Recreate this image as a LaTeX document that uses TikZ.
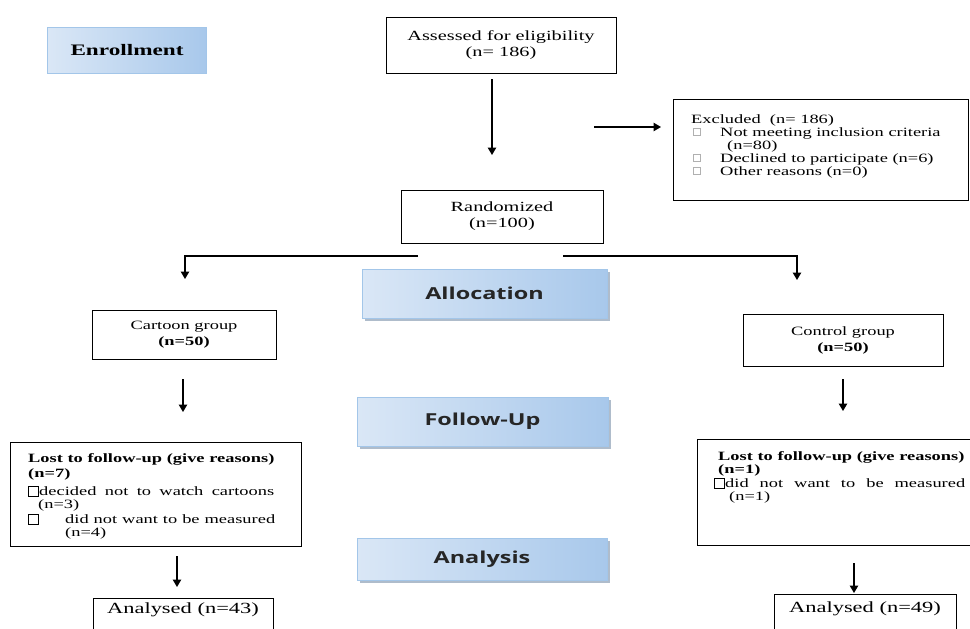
\documentclass[tikz,border=0pt]{standalone}
\usepackage{fontspec}
\setmainfont{Liberation Serif}[FakeStretch=1.45]
\newfontfamily\headsans{Open Sans}[FakeStretch=1.42]
\usetikzlibrary{arrows.meta,shadows}
\definecolor{bluelight}{HTML}{DAE7F6}
\definecolor{bluemid}{HTML}{C7DBF1}
\definecolor{bluedark}{HTML}{A8C8EB}
\definecolor{blueedge}{HTML}{A3C6E9}
\definecolor{shadowc}{HTML}{8D9FB5}
\definecolor{cbgrey}{HTML}{B0B0B0}
\tikzset{
  box/.style={draw, line width=0.8pt, inner sep=0pt},
  bluebox/.style={draw=blueedge, line width=0.8pt, left color=bluelight, middle color=bluemid, right color=bluedark, inner sep=0pt},
  shadowed/.style={drop shadow={shadow xshift=3pt, shadow yshift=-3pt, fill=shadowc, opacity=0.7}},
  headfont/.style={font=\headsans\bfseries\fontsize{16.5}{18}\selectfont, text=black!85},
  bodyfont/.style={font=\fontsize{12.7}{15}\selectfont},
  bigfont/.style={font=\fontsize{14}{16}\selectfont},
  txt/.style={anchor=base west, inner sep=0pt, bodyfont},
  arr/.style={line width=1.2pt, -{Triangle[width=8.5pt,length=7.5pt]}},
  cbblack/.style={draw, line width=0.6pt},
  cbg/.style={draw=cbgrey, line width=0.5pt}
}
\begin{document}
\begin{tikzpicture}[x=1pt,y=-1pt]
\useasboundingbox (0,0) rectangle (970,629);

% Enrollment
\node[bluebox, minimum width=159, minimum height=46, font=\fontsize{16}{18}\selectfont\bfseries] (enroll) at (127,50) {Enrollment};

% Assessed
\node[box, minimum width=230, minimum height=56, align=center, bigfont] (assessed) at (501,45) {Assessed for eligibility\\(n= 186)};
\coordinate (a1s) at (492,79);
\coordinate (a1e) at (492,155);
\draw[arr] (a1s) -- (a1e);

% Excluded
\node[box, minimum width=295, minimum height=101] (excl) at (820.5,149.5) {};
\coordinate (a2s) at (594,127);
\coordinate (a2e) at (661,127);
\draw[arr] (a2s) -- (a2e);
\node[txt] (ex0) at (691,123) {Excluded\ \ (n= 186)};
\draw[cbg] (693,128.5) rectangle (700,135.5);
\node[txt] (ex1) at (720,136) {Not meeting inclusion criteria};
\node[txt] (ex2) at (727,149) {(n=80)};
\draw[cbg] (693,154.5) rectangle (700,161.5);
\node[txt] (ex3) at (720,162) {Declined to participate (n=6)};
\draw[cbg] (693,167.5) rectangle (700,174.5);
\node[txt] (ex4) at (720,175) {Other reasons (n=0)};

% Randomized
\node[box, minimum width=202, minimum height=53, align=center, bigfont] (rand) at (502,216.5) {Randomized\\(n=100)};
\coordinate (sl) at (418,256);
\coordinate (sr) at (563,256);
\coordinate (al) at (185,279);
\coordinate (ar) at (797,280);
\draw[arr] (sl) -| (al);
\draw[arr] (sr) -| (ar);

% Allocation
\node[bluebox, shadowed, minimum width=245, minimum height=49, headfont] (alloc) at (484.5,293.5) {Allocation};

% Groups
\node[box, minimum width=184, minimum height=49, align=center, font=\fontsize{12.7}{16}\selectfont] (cart) at (184,334.5) {Cartoon group\\\textbf{(n=50)}};
\node[box, minimum width=200, minimum height=52, align=center, font=\fontsize{12.7}{16}\selectfont] (ctrl) at (843,340) {Control group\\\textbf{(n=50)}};
\coordinate (b1s) at (183,379);
\coordinate (b1e) at (183,412);
\draw[arr] (b1s) -- (b1e);
\coordinate (b2s) at (843,379);
\coordinate (b2e) at (843,411);
\draw[arr] (b2s) -- (b2e);

% Follow-Up
\node[bluebox, shadowed, minimum width=251, minimum height=49, headfont] (follow) at (482.5,421.5) {Follow-Up};

% Lost left
\node[box, minimum width=291, minimum height=104] (lostl) at (155.5,494) {};
\node[txt] (ll0) at (28,462) {\textbf{Lost to follow-up (give reasons)}};
\node[txt] (ll1) at (28,477) {\textbf{(n=7)}};
\draw[cbblack] (28,486.5) rectangle (38,496);
\node[txt] (ll2) at (39,495) {\makebox[235pt][s]{decided not to watch cartoons}};
\node[txt] (ll3) at (38,508) {(n=3)};
\draw[cbblack] (28,514.5) rectangle (38,524);
\node[txt] (ll4) at (65,523) {\makebox[210pt][s]{did not want to be measured}};
\node[txt] (ll5) at (65,536) {(n=4)};

% Lost right
\node[box, minimum width=276, minimum height=106] (lostr) at (835,492) {};
\node[txt] (lr0) at (718,460) {\textbf{Lost to follow-up (give reasons)}};
\node[txt] (lr1) at (718,473) {\textbf{(n=1)}};
\draw[cbblack] (714,478.5) rectangle (724,488);
\node[txt] (lr2) at (725,487) {\makebox[240pt][s]{did not want to be measured}};
\node[txt] (lr3) at (729,500) {(n=1)};

% Analysis
\node[bluebox, shadowed, minimum width=250, minimum height=42, headfont] (analysis) at (482,559) {Analysis};
\coordinate (c1s) at (177,556);
\coordinate (c1e) at (177,587);
\draw[arr] (c1s) -- (c1e);
\coordinate (c2s) at (854,563);
\coordinate (c2e) at (854,593);
\draw[arr] (c2s) -- (c2e);

% Analysed
\node[box, minimum width=180, minimum height=50] (anl) at (183,623) {};
\node[anchor=base, inner sep=0pt, font=\fontsize{15.5}{17}\selectfont] (anlt) at (183,613) {Analysed (n=43)};
\node[box, minimum width=182, minimum height=50] (anr) at (865,619) {};
\node[anchor=base, inner sep=0pt, font=\fontsize{15.5}{17}\selectfont] (anrt) at (865,612) {Analysed (n=49)};
\end{tikzpicture}
\end{document}
